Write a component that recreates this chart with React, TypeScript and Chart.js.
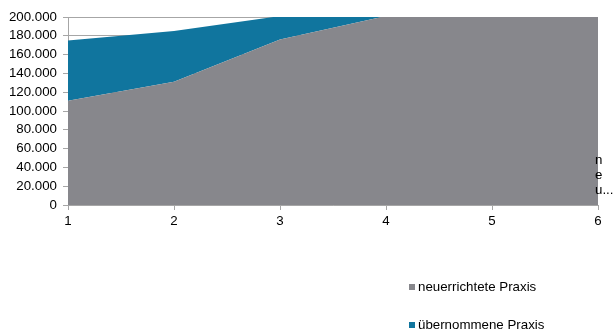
import React, { useEffect, useRef } from "react";
import { Chart, registerables } from "chart.js";

Chart.register(...registerables);

const categories = ["1", "2", "3", "4", "5", "6"];
const seriesNames = ["neuerrichtete Praxis", "übernommene Praxis"];
const neuerrichtet = [111000, 131000, 176000, 201000, 230000, 260000];
const uebernommen = [64000, 54000, 25000, 30000, 30000, 30000];
const yTicks = [0, 20000, 40000, 60000, 80000, 100000, 120000, 140000, 160000, 180000, 200000];
const colors = ["#87878c", "#10759e"];
const cutLabel = ["n", "e", "u..."];

const FONT = "'Liberation Sans', Arial, sans-serif";

function fmt(v: number): string {
  const s = Math.round(v).toString();
  return s.replace(/\B(?=(\d{3})+(?!\d))/g, ".");
}

const overlayPlugin = {
  id: "overlay",
  afterDraw(chart: any) {
    const ctx = chart.ctx;
    const x = chart.scales.x;
    const area = chart.chartArea;
    ctx.save();
    ctx.font = `13.3px ${FONT}`;
    ctx.fillStyle = "#000";
    ctx.textBaseline = "middle";
    ctx.textAlign = "left";
    const px = x.getPixelForValue(categories.length - 1) - 3;
    cutLabel.forEach((t, i) => {
      ctx.fillText(t, px, area.bottom - 45 + i * 15);
    });
    const lx = 409;
    const ys = [287, 325];
    seriesNames.forEach((name, i) => {
      ctx.fillStyle = colors[i];
      ctx.fillRect(lx, ys[i] - 3, 6, 6);
      ctx.fillStyle = "#000";
      ctx.fillText(name, lx + 9, ys[i]);
    });
    ctx.restore();
  },
};

export default function App() {
  const ref = useRef<HTMLCanvasElement>(null);
  useEffect(() => {
    if (!ref.current) return;
    const chart = new Chart(ref.current, {
      type: "line",
      data: {
        labels: categories,
        datasets: [
          {
            label: seriesNames[0],
            data: neuerrichtet,
            backgroundColor: colors[0],
            borderColor: colors[0],
            borderWidth: 0,
            pointRadius: 0,
            fill: "origin",
            tension: 0,
          },
          {
            label: seriesNames[1],
            data: uebernommen,
            backgroundColor: colors[1],
            borderColor: colors[1],
            borderWidth: 0,
            pointRadius: 0,
            fill: "-1",
            tension: 0,
          },
        ],
      },
      options: {
        animation: false,
        responsive: false,
        maintainAspectRatio: false,
        layout: { padding: { left: 0, right: 15, top: 17, bottom: 97 } },
        plugins: {
          legend: { display: false },
          tooltip: { enabled: false },
          filler: { drawTime: "beforeDatasetsDraw" },
        },
        scales: {
          x: {
            type: "category",
            offset: false,
            grid: {
              drawOnChartArea: false,
              drawTicks: true,
              tickLength: 5,
              color: "#a6a6a6",
            },
            border: { display: true, color: "#a6a6a6" },
            ticks: {
              color: "#000",
              font: { family: FONT, size: 13.3 },
              padding: 3,
              maxRotation: 0,
              autoSkip: false,
            },
            afterFit(scale: any) {
              scale.height = 30;
            },
          },
          y: {
            stacked: true,
            min: 0,
            max: 200000,
            afterBuildTicks(scale: any) {
              scale.ticks = yTicks.map((v) => ({ value: v }));
            },
            grid: {
              drawOnChartArea: true,
              drawTicks: true,
              tickLength: 5,
              color: "#a6a6a6",
            },
            border: { display: true, color: "#a6a6a6" },
            ticks: {
              color: "#000",
              font: { family: FONT, size: 13.3 },
              padding: 6,
              autoSkip: false,
              callback: (v: any) => fmt(Number(v)),
            },
            afterFit(scale: any) {
              scale.width = 68;
            },
          },
        },
      },
      plugins: [overlayPlugin],
    });
    return () => chart.destroy();
  }, []);
  return (
    <div style={{ position: "fixed", left: 0, top: 0, width: 613, height: 332, background: "#fff" }}>
      <canvas ref={ref} width={613} height={332} style={{ width: 613, height: 332 }} />
    </div>
  );
}
